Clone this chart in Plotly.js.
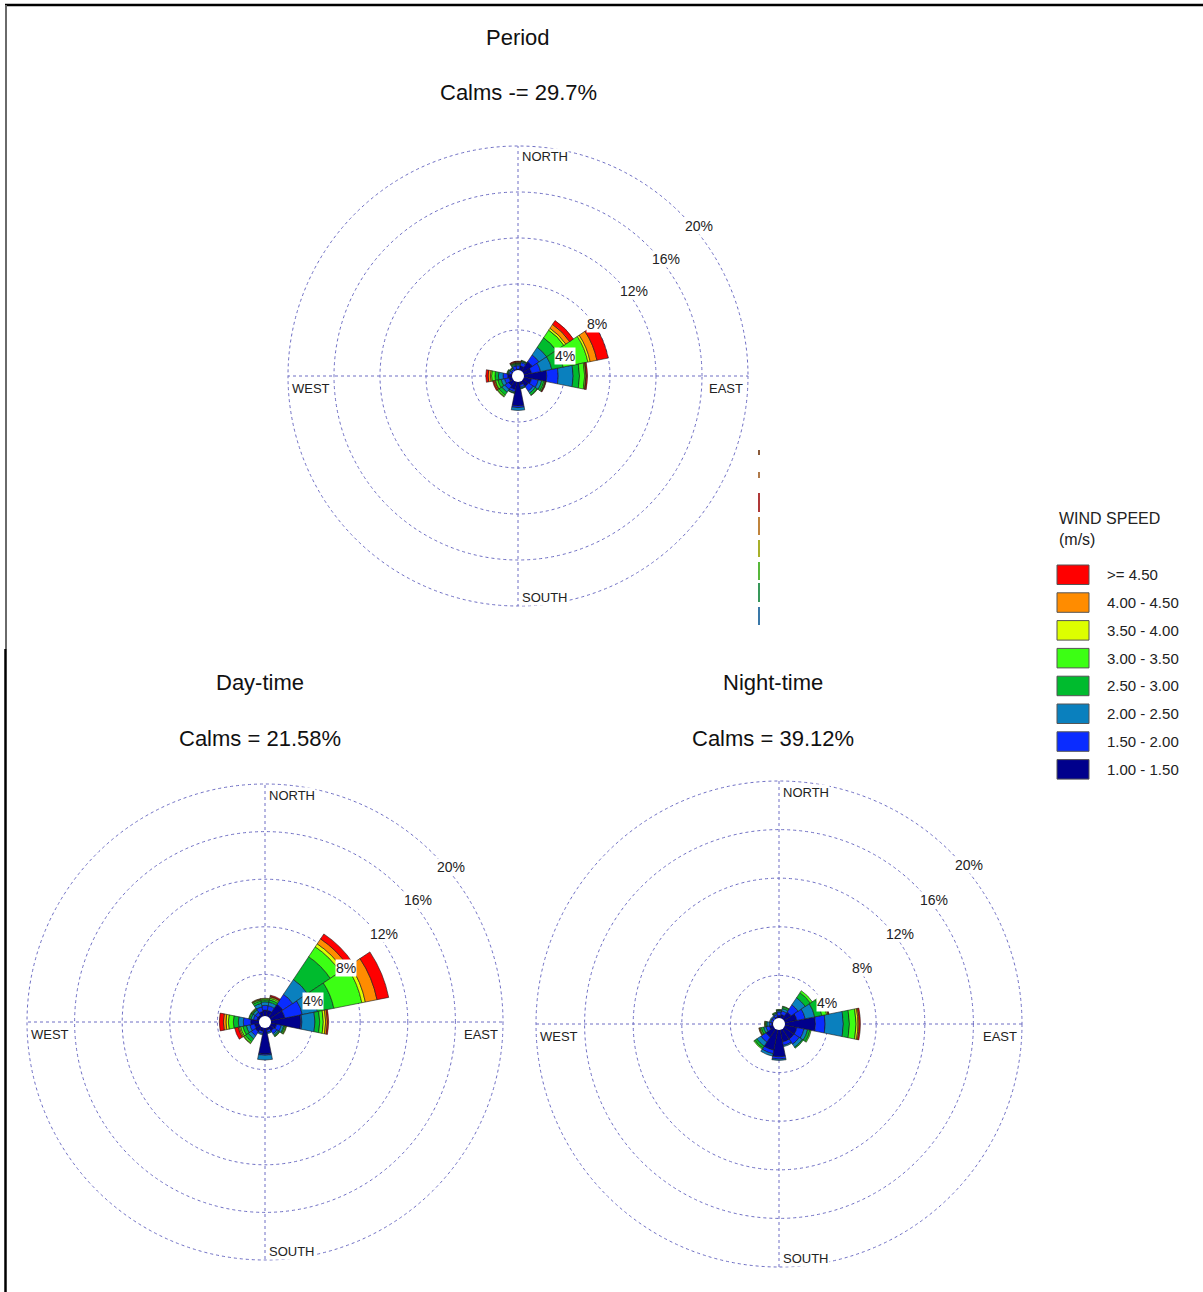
<!DOCTYPE html>
<html>
<head>
<meta charset="utf-8">
<script src="https://cdn.plot.ly/plotly-3.0.1.min.js"></script>
<style>
html,body{margin:0;padding:0;background:#fff;}
#chart{width:1203px;height:1292px;}
</style>
</head>
<body>
<div id="chart"></div>
<script>
// ---------- DATA ----------
const directions = ['N','NNE','NE','ENE','E','ESE','SE','SSE','S','SSW','SW','WSW','W','WNW','NW','NNW'];
const speedClasses = ['1.00 - 1.50','1.50 - 2.00','2.00 - 2.50','2.50 - 3.00','3.00 - 3.50','3.50 - 4.00','4.00 - 4.50','>= 4.50'];
const classColors = ['#00008c','#0a2cff','#0a80be','#00bb2e','#3cff14','#ddff00','#ff8c00','#ff0000'];
const radialTicks = [4, 8, 12, 16, 20];
const radialTickText = ['4%', '8%', '12%', '16%', '20%'];
const compassLabels = ['NORTH', 'EAST', 'SOUTH', 'WEST'];
const legendTitle = ['WIND SPEED', '(m/s)'];

// Period (frequency %, per speed class, N..NNW)
const periodS1 = [0.6,0.9,1.5,1.2,2.5,1.2,1.1,0.8,2.6,1.2,1.0,0.8,0.9,0.6,0.5,0.6];
const periodS2 = [0.3,0.3,0.7,0.8,1.0,0.6,0.5,0.2,0.15,0.2,0.4,0.4,0.4,0.2,0.2,0.3];
const periodS3 = [0.1,0.1,0.8,1.0,1.3,0.3,0.2,0.1,0.25,0.1,0.3,0.3,0.4,0.1,0.1,0.1];
const periodS4 = [0.1,0.05,1.0,1.0,0.55,0.2,0.2,0.05,0,0.05,0.3,0.3,0.3,0.05,0.05,0.1];
const periodS5 = [0.05,0.05,0.8,2.2,0.45,0.1,0.05,0,0,0,0.15,0.2,0.3,0.05,0.05,0.05];
const periodS6 = [0.05,0,0.2,0.2,0.1,0,0,0,0,0,0.05,0.05,0.1,0,0,0.05];
const periodS7 = [0.05,0,0.4,0.6,0.05,0.05,0,0,0,0,0,0.1,0.2,0,0,0.05];
const periodS8 = [0.05,0,0.4,1.0,0.1,0.05,0,0,0,0,0,0.1,0.2,0,0,0.05];

// Day-time
const dayS1 = [1.0,1.0,1.8,1.7,3.0,1.0,0.9,0.7,2.7,0.8,1.0,0.9,1.2,0.7,0.7,0.9];
const dayS2 = [0.4,0.4,1.0,1.5,0.1,0.4,0.3,0.2,0.1,0.2,0.4,0.4,0.62,0.3,0.3,0.4];
const dayS3 = [0.3,0.3,1.5,1.3,1.1,0.2,0.15,0.1,0.4,0.1,0.3,0.3,0.42,0.2,0.2,0.3];
const dayS4 = [0.15,0.2,2.3,1.4,0.4,0.1,0.1,0,0,0,0.3,0.3,0.42,0.15,0.1,0.2];
const dayS5 = [0.1,0.15,1.0,2.4,0.3,0.1,0.05,0,0,0,0.15,0.2,0.42,0.05,0.05,0.1];
const dayS6 = [0.05,0.1,0.3,0.3,0.2,0.05,0,0,0,0,0.05,0.1,0.2,0,0.05,0.05];
const dayS7 = [0,0.05,0.5,1.0,0.15,0,0,0,0,0,0,0.1,0.22,0,0,0.05];
const dayS8 = [0,0.1,0.5,1.0,0.1,0,0,0,0,0,0,0.3,0.34,0,0,0];

// Night-time
const nightS1 = [0.7,0.8,1.2,1.5,3.0,1.5,1.5,1.5,2.7,2.2,1.3,0.8,0.6,0.5,0.5,0.6];
const nightS2 = [0.3,0.3,0.7,0.7,0.8,0.6,0.5,0.3,0.2,0.3,0.5,0.3,0.2,0.2,0.2,0.2];
const nightS3 = [0.1,0.2,0.7,0.8,1.5,0.3,0.3,0.1,0.1,0.2,0.4,0.2,0.2,0.1,0.1,0.1];
const nightS4 = [0.05,0.15,0.5,0.6,0.5,0.2,0.1,0,0,0,0.2,0.2,0.1,0,0,0.05];
const nightS5 = [0.05,0.05,0.2,0.4,0.55,0.1,0,0,0,0,0.1,0.1,0.05,0,0,0.05];
const nightS6 = [0,0,0,0.1,0.15,0,0,0,0,0,0,0.05,0.05,0,0,0];
const nightS7 = [0,0,0,0.05,0.1,0,0,0,0,0,0,0.05,0,0,0,0];
const nightS8 = [0,0,0,0.05,0.1,0,0,0,0,0,0,0,0,0,0,0];

const periodSeries = [periodS1,periodS2,periodS3,periodS4,periodS5,periodS6,periodS7,periodS8];
const daySeries = [dayS1,dayS2,dayS3,dayS4,dayS5,dayS6,dayS7,dayS8];
const nightSeries = [nightS1,nightS2,nightS3,nightS4,nightS5,nightS6,nightS7,nightS8];

const roseTitles = ['Period', 'Day-time', 'Night-time'];
const roseCalms = ['Calms -= 29.7%', 'Calms = 21.58%', 'Calms = 39.12%'];

// ---------- LAYOUT GEOMETRY (pixels) ----------
const W = 1203, H = 1292;
const px = x => x / W;
const py = y => 1 - y / H;

const roses = [
  {id:'polar',  series:periodSeries, cx:518, cy:376,  r:230, tx:518, t1:37,  t2:93},
  {id:'polar2', series:daySeries,    cx:265, cy:1022, r:238, tx:260, t1:682, t2:738},
  {id:'polar3', series:nightSeries,  cx:779, cy:1024, r:243, tx:773, t1:682, t2:738}
];

const titleFont = {family:'"Liberation Sans", Arial, sans-serif', size:22, color:'#111'};
const smallFont = {family:'"Liberation Sans", Arial, sans-serif', size:13, color:'#222'};
const pctFont = {family:'"Liberation Sans", Arial, sans-serif', size:14, color:'#222'};
const legFont = {family:'"Liberation Sans", Arial, sans-serif', size:15, color:'#222'};
const gridCol = '#6e6ec4';
const radialMax = 20;

const traces = [];
const layout = {
  width: W, height: H,
  margin: {l:0, r:0, t:0, b:0},
  paper_bgcolor: '#ffffff',
  showlegend: false,
  annotations: [],
  shapes: []
};

roses.forEach((rs, ri) => {
  rs.series.forEach((vals, k) => {
    traces.push({
      type: 'barpolar',
      subplot: rs.id,
      r: vals,
      theta: directions,
      name: speedClasses[k],
      marker: {color: classColors[k], line: {color: '#1a1a1a', width: 0.6}},
      hoverinfo: 'theta+r+name'
    });
  });
  layout[rs.id] = {
    domain: {x: [px(rs.cx - rs.r), px(rs.cx + rs.r)], y: [py(rs.cy + rs.r), py(rs.cy - rs.r)]},
    bgcolor: 'rgba(0,0,0,0)',
    barmode: 'stack',
    bargap: 0,
    radialaxis: {range: [0, radialMax], tickvals: radialTicks, showticklabels: false, ticks: '',
                 showline: false, gridcolor: gridCol, griddash: 'dot', gridwidth: 1},
    angularaxis: {type: 'category', categoryarray: directions, rotation: 90, direction: 'clockwise',
                  tickvals: ['N','E','S','W'], showticklabels: false, ticks: '', showline: false,
                  gridcolor: gridCol, griddash: 'dot', gridwidth: 1}
  };
  // outer dotted boundary circle (the 20% ring)
  layout.shapes.push({type:'circle', xref:'paper', yref:'paper', layer:'below',
    x0:px(rs.cx - rs.r), x1:px(rs.cx + rs.r), y0:py(rs.cy + rs.r), y1:py(rs.cy - rs.r),
    line:{color:gridCol, width:1, dash:'dot'}});
  // titles
  layout.annotations.push({xref:'paper', yref:'paper', x:px(rs.tx), y:py(rs.t1), text:roseTitles[ri],
    showarrow:false, xanchor:'center', yanchor:'middle', font:titleFont});
  layout.annotations.push({xref:'paper', yref:'paper', x:px(rs.tx), y:py(rs.t2), text:roseCalms[ri],
    showarrow:false, xanchor:'center', yanchor:'middle', font:titleFont});
  // compass labels
  const cl = [
    {t:compassLabels[0], x:rs.cx + 3, y:rs.cy - rs.r + 11, xa:'left'},
    {t:compassLabels[1], x:rs.cx + rs.r - 4, y:rs.cy + 12, xa:'right'},
    {t:compassLabels[2], x:rs.cx + 3, y:rs.cy + rs.r - 9, xa:'left'},
    {t:compassLabels[3], x:rs.cx - rs.r + 3, y:rs.cy + 12, xa:'left'}
  ];
  cl.forEach(c => layout.annotations.push({xref:'paper', yref:'paper', x:px(c.x), y:py(c.y), text:c.t,
    showarrow:false, xanchor:c.xa, yanchor:'middle', font:smallFont, bgcolor:'#ffffff', borderpad:0}));
  // percent labels along 45 degrees
  radialTicks.forEach((t, i) => {
    const rr = t / radialMax * rs.r;
    layout.annotations.push({xref:'paper', yref:'paper', x:px(rs.cx + rr * Math.SQRT1_2), y:py(rs.cy - rr * Math.SQRT1_2),
      text:radialTickText[i], showarrow:false, xanchor:'left', yanchor:'top', xshift:3, yshift:-4,
      font:pctFont, bgcolor:'#ffffff', borderpad:0});
  });
  // white calm circle in the middle
  layout.shapes.push({type:'circle', xref:'paper', yref:'paper', layer:'above',
    x0:px(rs.cx - 6), x1:px(rs.cx + 6), y0:py(rs.cy + 6), y1:py(rs.cy - 6),
    fillcolor:'#ffffff', line:{width:0}});
});

// legend (drawn manually)
layout.annotations.push({xref:'paper', yref:'paper', x:px(1057), y:py(518), text:legendTitle[0], showarrow:false,
  xanchor:'left', yanchor:'middle', font:{family:'"Liberation Sans", Arial, sans-serif', size:16, color:'#222'}});
layout.annotations.push({xref:'paper', yref:'paper', x:px(1057), y:py(540), text:legendTitle[1], showarrow:false,
  xanchor:'left', yanchor:'middle', font:{family:'"Liberation Sans", Arial, sans-serif', size:16, color:'#222'}});
for (let i = 0; i < speedClasses.length; i++) {
  const k = speedClasses.length - 1 - i;
  const top = 565 + i * 27.8;
  layout.shapes.push({type:'rect', xref:'paper', yref:'paper', x0:px(1057), x1:px(1089), y0:py(top + 19.5), y1:py(top),
    fillcolor:classColors[k], line:{color:'#555', width:1}});
  layout.annotations.push({xref:'paper', yref:'paper', x:px(1105), y:py(top + 9.75), text:speedClasses[k],
    showarrow:false, xanchor:'left', yanchor:'middle', font:legFont});
}

// stray legend artefact marks near the first rose
const artefacts = [[450,455,'#8a5a3a'],[472,478,'#b07a4a'],[493,512,'#b03838'],[517,535,'#c0843c'],
                   [540,557,'#a8b02a'],[562,580,'#58b83a'],[583,602,'#38985a'],[607,625,'#3a78a8']];
artefacts.forEach(a => layout.shapes.push({type:'line', xref:'paper', yref:'paper', x0:px(759), x1:px(759),
  y0:py(a[0]), y1:py(a[1]), line:{color:a[2], width:2}}));

// frame lines
layout.shapes.push({type:'line', xref:'paper', yref:'paper', x0:px(5), x1:1, y0:py(5), y1:py(5), line:{color:'#000', width:2.5}});
layout.shapes.push({type:'line', xref:'paper', yref:'paper', x0:px(6), x1:px(6), y0:py(5), y1:py(649), line:{color:'#6a6a6a', width:2}});
layout.shapes.push({type:'line', xref:'paper', yref:'paper', x0:px(5.5), x1:px(5.5), y0:py(649), y1:0, line:{color:'#000', width:2.5}});

Plotly.newPlot('chart', traces, layout, {displayModeBar:false, staticPlot:true});
</script>
</body>
</html>
